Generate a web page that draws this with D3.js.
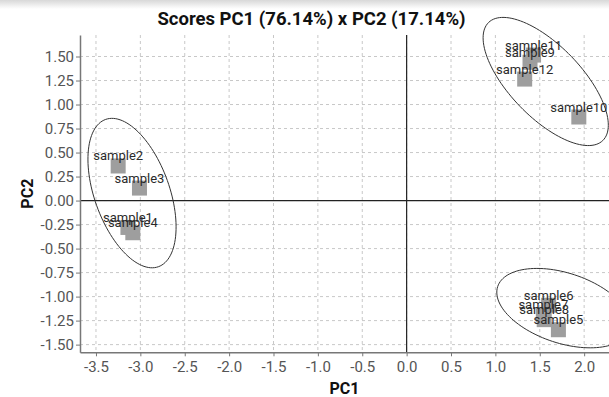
<!DOCTYPE html>
<html>
<head>
<meta charset="utf-8">
<script src="https://cdn.jsdelivr.net/npm/d3@7"></script>
<style>
  html, body { margin: 0; padding: 0; background: #fff; overflow: hidden; }
  svg { display: block; font-family: Roboto, "Noto Sans", sans-serif; }
</style>
</head>
<body>
<svg id="chart" width="609" height="397"></svg>
<script>
// ---- data ----
const samples = ["sample1","sample2","sample3","sample4","sample5","sample6",
                 "sample7","sample8","sample9","sample10","sample11","sample12"];
const pc1 = [-3.14, -3.25, -3.01, -3.085, 1.71, 1.60, 1.54, 1.55, 1.39, 1.94, 1.43, 1.33];
const pc2 = [-0.28, 0.36, 0.13, -0.335, -1.345, -1.09, -1.19, -1.24, 1.44, 0.87, 1.515, 1.265];

// confidence ellipses: centre and two half-axis vectors, in data units
const ellCx = [-3.094, 1.567, 1.768];
const ellCy = [0.078, 1.240, -1.120];
const ellAx = [0.297, 0.643, 0.742];
const ellAy = [-0.767, -0.615, -0.2247];
const ellBx = [-0.398, -0.290, -0.1231];
const ellBy = [-0.131, -0.259, -0.347];

const xTicks = [-3.5, -3.0, -2.5, -2.0, -1.5, -1.0, -0.5, 0.0, 0.5, 1.0, 1.5, 2.0];
const yTicks = [-1.5, -1.25, -1.0, -0.75, -0.5, -0.25, 0.0, 0.25, 0.5, 0.75, 1.0, 1.25, 1.5];

const titleText = "Scores PC1 (76.14%) x PC2 (17.14%)";
const xLabel = "PC1";
const yLabel = "PC2";

(function () {
// ---- layout ----
const svg = d3.select("#chart");
const pL = 80, pR = 609, pT = 35, pB = 352.3;

const x = d3.scaleLinear().domain([-3.68, 2.28]).range([pL, pR]);
const y = d3.scaleLinear().domain([-1.58, 1.724]).range([pB, pT]);

// top shadow band
const defs = svg.append("defs");
const grad = defs.append("linearGradient").attr("id", "topShade")
  .attr("x1", 0).attr("y1", 0).attr("x2", 0).attr("y2", 1);
grad.append("stop").attr("offset", "0%").attr("stop-color", "#d8d8d8");
grad.append("stop").attr("offset", "100%").attr("stop-color", "#ffffff");
svg.append("rect").attr("x", 0).attr("y", 0).attr("width", 609).attr("height", 9)
  .attr("fill", "url(#topShade)");

// grid
const grid = svg.append("g");
grid.selectAll("line.vg").data(xTicks).join("line").attr("class", "vg")
  .attr("x1", d => x(d)).attr("x2", d => x(d))
  .attr("y1", pT).attr("y2", pB)
  .attr("stroke", "#c8c8c8").attr("stroke-width", 1).attr("stroke-dasharray", "3,3");
grid.selectAll("line.hg").data(yTicks).join("line").attr("class", "hg")
  .attr("x1", pL).attr("x2", pR)
  .attr("y1", d => y(d)).attr("y2", d => y(d))
  .attr("stroke", "#c8c8c8").attr("stroke-width", 1).attr("stroke-dasharray", "3,3");

// zero lines
svg.append("line").attr("x1", x(0)).attr("x2", x(0)).attr("y1", pT).attr("y2", pB)
  .attr("stroke", "#222").attr("stroke-width", 1.2);
svg.append("line").attr("x1", pL).attr("x2", pR).attr("y1", y(0)).attr("y2", y(0))
  .attr("stroke", "#222").attr("stroke-width", 1.2);

// axes
const xAxis = svg.append("g").attr("transform", `translate(0,${pB})`)
  .call(d3.axisBottom(x).tickValues(xTicks).tickFormat(d3.format(".1f"))
        .tickSize(4).tickSizeOuter(0).tickPadding(5));
const yAxis = svg.append("g").attr("transform", `translate(${pL},0)`)
  .call(d3.axisLeft(y).tickValues(yTicks).tickFormat(d3.format(".2f"))
        .tickSize(4).tickSizeOuter(0).tickPadding(2));
[xAxis, yAxis].forEach(g => {
  g.select(".domain").attr("stroke", "#777").attr("stroke-width", 1.5);
  g.selectAll(".tick line").attr("stroke", "#777");
  g.selectAll(".tick text").attr("fill", "#555").style("font-size", "15px")
    .style("font-family", "Roboto, sans-serif");
});
xAxis.selectAll(".tick text").text(d => d3.format(".1f")(d).replace("−", "-"));
yAxis.selectAll(".tick text").text(d => d3.format(".2f")(d).replace("−", "-"));

// ellipses
const ts = d3.range(0, 360, 3).map(a => a * Math.PI / 180);
const ellLine = d3.line().x(p => x(p[0])).y(p => y(p[1])).curve(d3.curveCardinalClosed);
ellCx.forEach((cx, i) => {
  const pts = ts.map(t => [
    cx + ellAx[i] * Math.cos(t) + ellBx[i] * Math.sin(t),
    ellCy[i] + ellAy[i] * Math.cos(t) + ellBy[i] * Math.sin(t)
  ]);
  svg.append("path").attr("d", ellLine(pts))
    .attr("fill", "none").attr("stroke", "#333").attr("stroke-width", 1);
});

// points
const pts = samples.map((s, i) => ({ s, px: pc1[i], py: pc2[i] }));
const sz = 15;
svg.append("g").selectAll("rect").data(pts).join("rect")
  .attr("x", d => x(d.px) - sz / 2).attr("y", d => y(d.py) - sz / 2)
  .attr("width", sz).attr("height", sz).attr("fill", "#9e9e9e");

svg.append("g").selectAll("text").data(pts).join("text")
  .attr("x", d => x(d.px)).attr("y", d => y(d.py) - 5.5)
  .attr("text-anchor", "middle").attr("fill", "#2a2a2a")
  .style("font-size", "13px")
  .text(d => d.s);

// titles
svg.append("text").attr("x", 311.5).attr("y", 24.5).attr("text-anchor", "middle")
  .style("font-size", "18.5px").style("font-weight", "bold").attr("fill", "#111")
  .text(titleText);
svg.append("text").attr("x", (pL + pR) / 2).attr("y", 394).attr("text-anchor", "middle")
  .style("font-size", "16px").style("font-weight", "bold").attr("fill", "#111")
  .text(xLabel);
svg.append("text").attr("transform", `translate(33,${(pT + pB) / 2}) rotate(-90)`)
  .attr("text-anchor", "middle")
  .style("font-size", "16px").style("font-weight", "bold").attr("fill", "#111")
  .text(yLabel);
})();
</script>
</body>
</html>
